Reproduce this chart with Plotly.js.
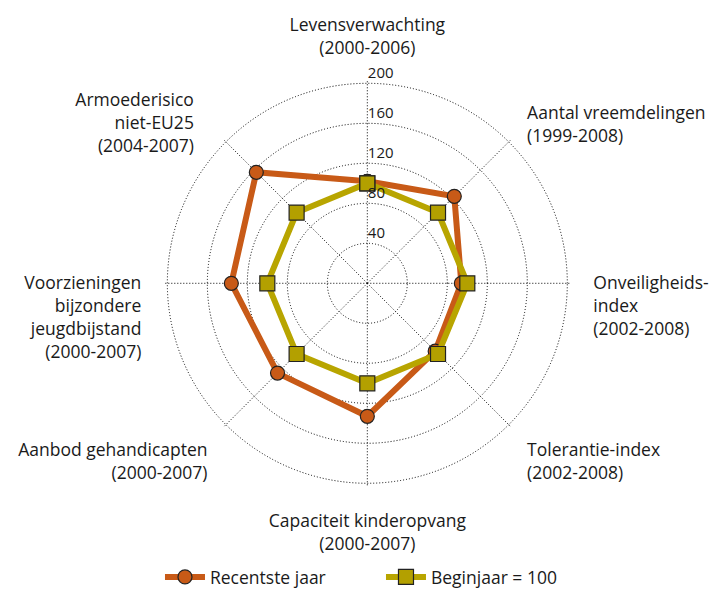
<!DOCTYPE html>
<html>
<head>
<meta charset="utf-8">
<script src="https://cdn.plot.ly/plotly-3.0.1.min.js"></script>
<style>html,body{margin:0;padding:0;background:#fff;}#chart{width:712px;height:590px;}</style>
</head>
<body>
<div id="chart"></div>
<script>
var categories = [
  "Levensverwachting<br>(2000-2006)",
  "Aantal vreemdelingen<br>(1999-2008)",
  "Onveiligheids-<br>index<br>(2002-2008)",
  "Tolerantie-index<br>(2002-2008)",
  "Capaciteit kinderopvang<br>(2000-2007)",
  "Aanbod gehandicapten<br>(2000-2007)",
  "Voorzieningen<br>bijzondere<br>jeugdbijstand<br>(2000-2007)",
  "Armoederisico<br>niet-EU25<br>(2004-2007)"
];
var recentValues = [102, 123, 94, 96, 133, 127, 136, 157];
var beginValues = [100, 100, 100, 100, 100, 100, 100, 100];
var radialTicks = [40, 80, 120, 160, 200];

function closeLoop(a) { return a.concat([a[0]]); }

// layout-only tweaks for label placement (blank lines above / below, trailing spaces)
var BL = "\u00a0";
var leadLines  = [0, 4, 2, 0, 0, 0, 3, 6];
var trailLines = [0, 0, 0, 0, 0, 0, 0, 0];
var trailSpaces = [0, 0, 0, 0, 0, 0, 0, 3];
function rep(s, n) { var o = ""; for (var i = 0; i < n; i++) o += s; return o; }
var tickLabels = categories.map(function (c, i) {
  var sp = rep(BL, trailSpaces[i]);
  var body = c.split("<br>").map(function (l) { return l + sp; }).join("<br>");
  return rep(BL + "<br>", leadLines[i]) + body + rep("<br>" + BL, trailLines[i]);
});

var FONT = "Open Sans, Noto Sans, sans-serif";

var traces = [
  {
    type: "scatterpolar",
    name: "Recentste jaar",
    r: closeLoop(recentValues),
    theta: closeLoop(categories),
    mode: "lines+markers",
    line: {color: "#C85A17", width: 6},
    marker: {symbol: "circle", size: 14, color: "#C85A17", line: {color: "#222", width: 1.2}}
  },
  {
    type: "scatterpolar",
    name: "Beginjaar = 100",
    r: closeLoop(beginValues),
    theta: closeLoop(categories),
    mode: "lines+markers",
    line: {color: "#B8A500", width: 6},
    marker: {symbol: "square", size: 15, color: "#B3A000", line: {color: "#222", width: 1.2}}
  }
];

var layout = {
  width: 712,
  height: 590,
  margin: {l: 0, r: 0, t: 0, b: 0, autoexpand: false},
  paper_bgcolor: "#fff",
  font: {family: FONT, size: 17.5, color: "#1a1a1a"},
  showlegend: true,
  legend: {
    orientation: "h",
    x: 0.2247, xanchor: "left",
    y: 0.022, yanchor: "middle",
    font: {family: FONT, size: 17.5, color: "#1a1a1a"},
    entrywidth: 166,
    itemwidth: 40,
    bgcolor: "rgba(0,0,0,0)"
  },
  polar: {
    domain: {x: [0.2322, 0.7996], y: [0.1775, 0.8622]},
    bgcolor: "rgba(0,0,0,0)",
    radialaxis: {
      range: [0, 202],
      tickvals: radialTicks,
      ticktext: radialTicks.map(function (v) { return String(v) + "<br>" + BL; }),
      angle: 90,
      side: "clockwise",
      tickangle: 90,
      showline: false,
      ticks: "",
      gridcolor: "#000",
      griddash: "1px,2px",
      gridwidth: 1,
      tickfont: {family: FONT, size: 15, color: "#1a1a1a"}
    },
    angularaxis: {
      direction: "clockwise",
      rotation: 90,
      showline: false,
      gridcolor: "#000",
      griddash: "1px,2px",
      gridwidth: 1,
      ticks: "outside",
      ticklen: 20,
      tickcolor: "rgba(0,0,0,0)",
      tickmode: "array",
      tickvals: categories,
      ticktext: tickLabels,
      tickfont: {family: FONT, size: 17.5, color: "#1a1a1a"}
    }
  }
};

Plotly.newPlot("chart", traces, layout, {displayModeBar: false, staticPlot: true});
</script>
</body>
</html>
